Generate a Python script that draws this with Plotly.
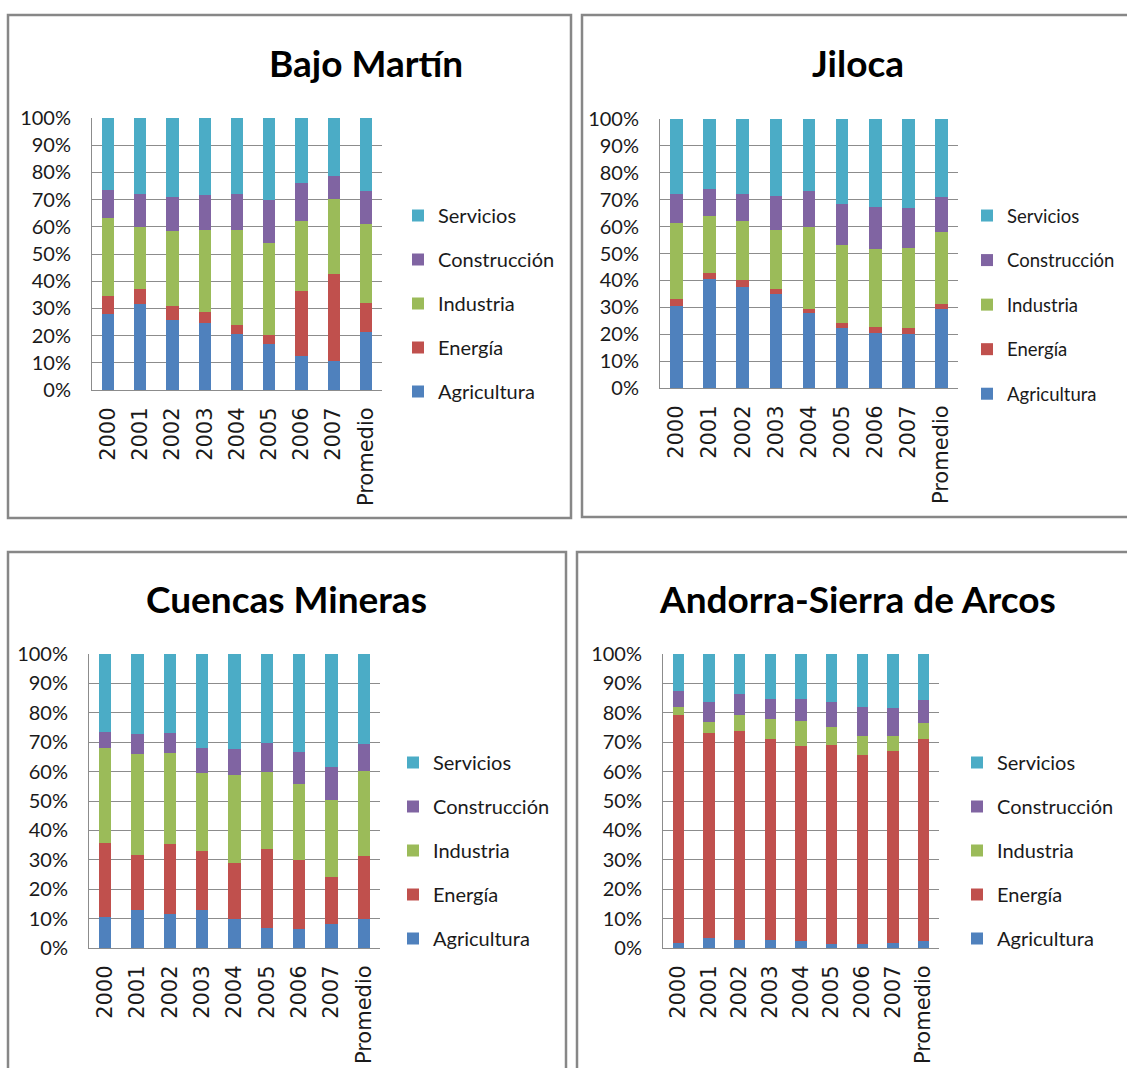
import plotly.graph_objects as go

W, H = 1127, 1068

categories = ["2000", "2001", "2002", "2003", "2004", "2005", "2006", "2007", "Promedio"]
sectors = ["Agricultura", "Energía", "Industria", "Construcción", "Servicios"]
colors = ["#4F81BD", "#C0504D", "#9BBB59", "#8064A2", "#4BACC6"]
y_ticks = [0, 10, 20, 30, 40, 50, 60, 70, 80, 90, 100]
y_tick_labels = ["0%", "10%", "20%", "30%", "40%", "50%", "60%", "70%", "80%", "90%", "100%"]

titles = ["Bajo Martín", "Jiloca", "Cuencas Mineras", "Andorra-Sierra de Arcos"]

# Bajo Martín
bm_agricultura = [27.8, 31.5, 25.7, 24.8, 20.7, 17.0, 12.5, 10.8, 21.5]
bm_energia = [6.8, 5.6, 5.3, 3.8, 3.2, 3.2, 23.9, 31.8, 10.4]
bm_industria = [28.6, 22.8, 27.3, 30.4, 35.1, 33.9, 25.9, 27.5, 29.2]
bm_construccion = [10.2, 12.3, 12.7, 12.8, 13.2, 15.7, 13.7, 8.7, 12.0]
bm_servicios = [26.6, 27.8, 29.0, 28.2, 27.8, 30.2, 24.0, 21.2, 26.9]

# Jiloca
ji_agricultura = [30.5, 40.4, 37.6, 35.1, 27.7, 22.2, 20.5, 20.1, 29.3]
ji_energia = [2.5, 2.3, 2.5, 1.6, 1.6, 2.1, 2.1, 2.1, 2.1]
ji_industria = [28.3, 21.2, 22.1, 22.1, 30.4, 28.8, 29.1, 30.0, 26.7]
ji_construccion = [10.9, 9.9, 10.0, 12.5, 13.4, 15.4, 15.5, 14.7, 12.9]
ji_servicios = [27.8, 26.2, 27.8, 28.7, 26.9, 31.5, 32.8, 33.1, 29.0]

# Cuencas Mineras
cm_agricultura = [10.7, 13.0, 11.6, 13.0, 9.9, 6.9, 6.5, 8.0, 9.9]
cm_energia = [25.1, 18.6, 23.9, 19.9, 19.1, 26.7, 23.3, 16.0, 21.4]
cm_industria = [32.1, 34.4, 30.8, 26.6, 29.7, 26.3, 26.0, 26.3, 28.9]
cm_construccion = [5.7, 6.8, 6.9, 8.5, 8.9, 9.9, 11.0, 11.2, 9.3]
cm_servicios = [26.4, 27.2, 26.8, 32.0, 32.4, 30.2, 33.2, 38.5, 30.5]

# Andorra-Sierra de Arcos
an_agricultura = [1.6, 3.5, 2.7, 2.7, 2.3, 1.2, 1.2, 1.6, 2.3]
an_energia = [77.7, 69.7, 71.0, 68.4, 66.4, 67.8, 64.4, 65.5, 68.7]
an_industria = [2.8, 3.6, 5.7, 6.7, 8.4, 6.2, 6.5, 5.0, 5.5]
an_construccion = [5.3, 6.9, 6.9, 6.9, 7.6, 8.5, 10.0, 9.5, 7.9]
an_servicios = [12.6, 16.3, 13.7, 15.3, 15.3, 16.3, 17.9, 18.4, 15.6]

panels_data = [
    [bm_agricultura, bm_energia, bm_industria, bm_construccion, bm_servicios],
    [ji_agricultura, ji_energia, ji_industria, ji_construccion, ji_servicios],
    [cm_agricultura, cm_energia, cm_industria, cm_construccion, cm_servicios],
    [an_agricultura, an_energia, an_industria, an_construccion, an_servicios],
]

# layout geometry in pixels: plot area (x0, x1, ytop, ybottom)
plot_px = [
    (92, 382, 118, 390),
    (660, 958, 119, 388),
    (89, 380, 654, 948),
    (663, 939, 654, 948),
]
title_px = [(366, 62), (858, 62), (286, 598), (857, 598)]
legend_px = [(398, 196), (967, 197), (393, 743), (957, 743)]
legend_size = [20, 18.5, 20, 20]
legend_gap = [15, 17.5, 15, 15]
frame_px = [
    (8, 15, 571, 518),
    (582, 15, 1135, 517),
    (8, 552, 566, 1075),
    (577, 552, 1135, 1075),
]

TICK_FONT = "Lato, 'Open Sans', sans-serif"
CAT_FONT = "'DejaVu Sans', Verdana, sans-serif"

fig = go.Figure()
layout = dict(
    template="none",
    width=W, height=H, autosize=False,
    margin=dict(l=0, r=0, t=0, b=0, pad=0, autoexpand=False),
    paper_bgcolor="white", plot_bgcolor="white",
    barmode="stack",
    showlegend=True,
    annotations=[], shapes=[],
)

for p in range(4):
    ax = "" if p == 0 else str(p + 1)
    lg = "legend" if p == 0 else f"legend{p + 1}"
    for s in range(5):
        fig.add_trace(go.Bar(
            x=categories, y=panels_data[p][s], name=sectors[s],
            marker=dict(color=colors[s], line=dict(width=0)),
            width=0.38,
            xaxis="x" + ax, yaxis="y" + ax,
            legend=lg, legendgroup=f"p{p}s{s}", legendrank=10 - s,
            hoverinfo="skip",
        ))
    x0, x1, yt, yb = plot_px[p]
    layout["xaxis" + ax] = dict(
        domain=[x0 / W, x1 / W], anchor="y" + ax, type="category",
        categoryorder="array", categoryarray=categories,
        tickangle=-90, tickfont=dict(family=CAT_FONT, size=21, color="#1a1a1a"),
        showline=True, linecolor="#8c8c8c", linewidth=1,
        showgrid=False, ticks="", ticklabelstandoff=8, fixedrange=True,
        automargin=False,
    )
    layout["yaxis" + ax] = dict(
        domain=[1 - yb / H, 1 - yt / H], anchor="x" + ax,
        range=[0, 100], tickmode="array", tickvals=y_ticks, ticktext=y_tick_labels,
        tickfont=dict(family=TICK_FONT, size=20, color="#1a1a1a"),
        showgrid=True, gridcolor="#8c8c8c", gridwidth=1,
        showline=True, linecolor="#8c8c8c", linewidth=1,
        zeroline=False, ticks="", ticklabelstandoff=16, fixedrange=True,
        automargin=False,
    )
    lx, ly = legend_px[p]
    layout[lg] = dict(
        x=lx / W, y=1 - ly / H, xanchor="left", yanchor="top",
        xref="paper", yref="paper",
        traceorder="grouped", tracegroupgap=legend_gap[p],
        font=dict(family=TICK_FONT, size=legend_size[p], color="#1a1a1a"),
        bgcolor="rgba(0,0,0,0)", borderwidth=0,
        itemclick=False, itemdoubleclick=False,
    )
    tx, ty = title_px[p]
    layout["annotations"].append(dict(
        text=f"<b>{titles[p]}</b>", x=tx / W, y=1 - ty / H,
        xref="paper", yref="paper", xanchor="center", yanchor="middle",
        showarrow=False, font=dict(family=TICK_FONT, size=37, color="#000000"),
    ))
    fx0, fy0, fx1, fy1 = frame_px[p]
    layout["shapes"].append(dict(
        type="rect", xref="paper", yref="paper",
        x0=fx0 / W, x1=fx1 / W, y0=1 - fy1 / H, y1=1 - fy0 / H,
        line=dict(color="#878787", width=2.5), fillcolor="rgba(0,0,0,0)",
        layer="below",
    ))

fig.update_layout(**layout)

post = (
    "document.documentElement.style.margin='0px';"
    "document.documentElement.style.overflow='hidden';"
    "document.body.style.margin='0px';"
    "document.body.style.overflow='hidden';"
)
fig.write_html("out.html", config={"displayModeBar": False}, post_script=post)
